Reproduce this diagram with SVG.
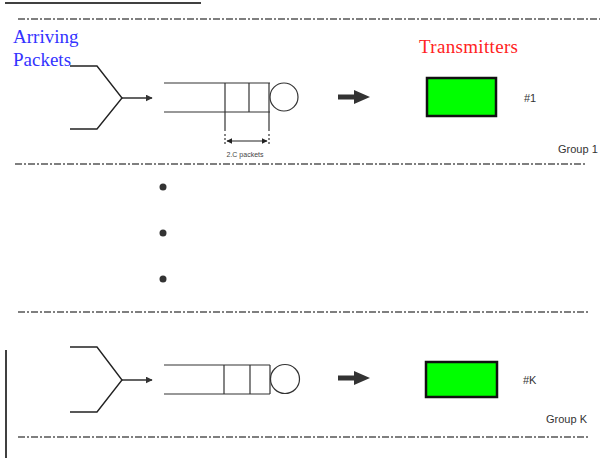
<svg xmlns="http://www.w3.org/2000/svg" width="613" height="458" viewBox="0 0 613 458">
  <style>
    .divider { stroke: #555; stroke-width: 1.6; stroke-dasharray: 7 2 2 2; fill: none; }
    .line { stroke: #222; stroke-width: 1.4; fill: none; }
    .qline { stroke: #333; stroke-width: 1.2; fill: none; }
    .tx { fill: #00ff00; stroke: #111; stroke-width: 2.5; }
    .big { fill: #333; }
    .label { font-family: "Liberation Sans", Arial, sans-serif; fill: #444; }
    .tag { font-family: "Liberation Sans", Arial, sans-serif; fill: #333; font-size: 11px; }
    .title { font-family: "Liberation Serif", "Times New Roman", serif; font-size: 19px; }
  </style>
  <defs>
    <marker id="small-head" viewBox="0 0 10 10" refX="9" refY="5" markerWidth="7" markerHeight="7" markerUnits="userSpaceOnUse" orient="auto">
      <path d="M0,0 L10,5 L0,10 z" fill="#333"/>
    </marker>
    <marker id="dim-head" viewBox="0 0 10 10" refX="9" refY="5" markerWidth="6" markerHeight="6" markerUnits="userSpaceOnUse" orient="auto-start-reverse">
      <path d="M0,0 L10,5 L0,10 z" fill="#222"/>
    </marker>
    <path id="bold-arrow" d="M0,-2.5 L16,-2.5 L16,-7 L32,0 L16,7 L16,2.5 L0,2.5 z"/>
  </defs>
  <rect width="613" height="458" fill="#fff"/>

  <!-- page rules -->
  <line x1="5" y1="3" x2="201" y2="3" stroke="#000" stroke-width="1.5"/>
  <line x1="6" y1="350" x2="6" y2="458" stroke="#000" stroke-width="1.5"/>

  <!-- group dividers -->
  <g id="dividers">
    <line class="divider" x1="18" y1="19" x2="600" y2="19"/>
    <line class="divider" x1="15" y1="164" x2="586" y2="164"/>
    <line class="divider" x1="18" y1="312" x2="590" y2="312"/>
    <line class="divider" x1="18" y1="437" x2="590" y2="437"/>
  </g>

  <!-- headings -->
  <text class="title" x="13" y="43" fill="#3333ff">Arriving</text>
  <text class="title" x="13" y="66" fill="#3333ff">Packets</text>
  <text class="title" x="419" y="53" fill="#ff2222" textLength="99">Transmitters</text>

  <!-- group 1 -->
  <g id="merge-1">
    <path class="line" d="M70,66 L97,66 L122,98 L97,129 L70,129"/>
  </g>
  <g id="queue-1">
    <path class="qline" d="M164,83 L270,83 M164,112 L270,112"/>
    <line class="qline" x1="225" y1="83" x2="225" y2="131" stroke-width="1.6"/>
    <line class="qline" x1="249" y1="83" x2="249" y2="112"/>
    <line class="qline" x1="269" y1="83" x2="269" y2="131"/>
    <circle class="qline" cx="284" cy="97" r="14"/>
    <line class="qline" x1="225" y1="134" x2="225" y2="146" stroke-dasharray="2 2"/>
    <line class="qline" x1="269" y1="134" x2="269" y2="146" stroke-dasharray="2 2"/>
    <line x1="227" y1="141" x2="267" y2="141" stroke="#222" stroke-width="1.2" marker-start="url(#dim-head)" marker-end="url(#dim-head)"/>
    <text class="label" x="245" y="157" font-size="7" text-anchor="middle">2.C packets</text>
  </g>
  <g id="transmitter-1">
    <rect class="tx" x="427" y="78" width="69" height="38"/>
    <text class="tag" x="524" y="102">#1</text>
    <text class="tag" x="558" y="153">Group 1</text>
  </g>

  <!-- ellipsis between groups -->
  <g id="ellipsis" fill="#333">
    <circle cx="163" cy="187" r="3.5"/>
    <circle cx="163" cy="233" r="3.5"/>
    <circle cx="163" cy="279" r="3.5"/>
  </g>

  <!-- group K -->
  <g id="merge-k">
    <path class="line" d="M70,347 L97,347 L122,380 L97,412 L70,412"/>
  </g>
  <g id="queue-k">
    <path class="qline" d="M164,365 L270,365 M164,394 L270,394"/>
    <line class="qline" x1="224" y1="365" x2="224" y2="394" stroke-width="2"/>
    <line class="qline" x1="250" y1="365" x2="250" y2="394"/>
    <line class="qline" x1="270" y1="365" x2="270" y2="394"/>
    <circle class="qline" cx="285" cy="379" r="14.5"/>
  </g>
  <g id="transmitter-k">
    <rect class="tx" x="426" y="362" width="71" height="35"/>
    <text class="tag" x="523" y="384">#K</text>
    <text class="tag" x="546" y="423">Group K</text>
  </g>

  <!-- connectors -->
  <g id="connectors">
    <line class="line" x1="122" y1="98" x2="152" y2="98" marker-end="url(#small-head)"/>
    <line class="line" x1="122" y1="380" x2="152" y2="380" marker-end="url(#small-head)"/>
    <use href="#bold-arrow" class="big" transform="translate(338,97)"/>
    <use href="#bold-arrow" class="big" transform="translate(338,378)"/>
  </g>
</svg>
